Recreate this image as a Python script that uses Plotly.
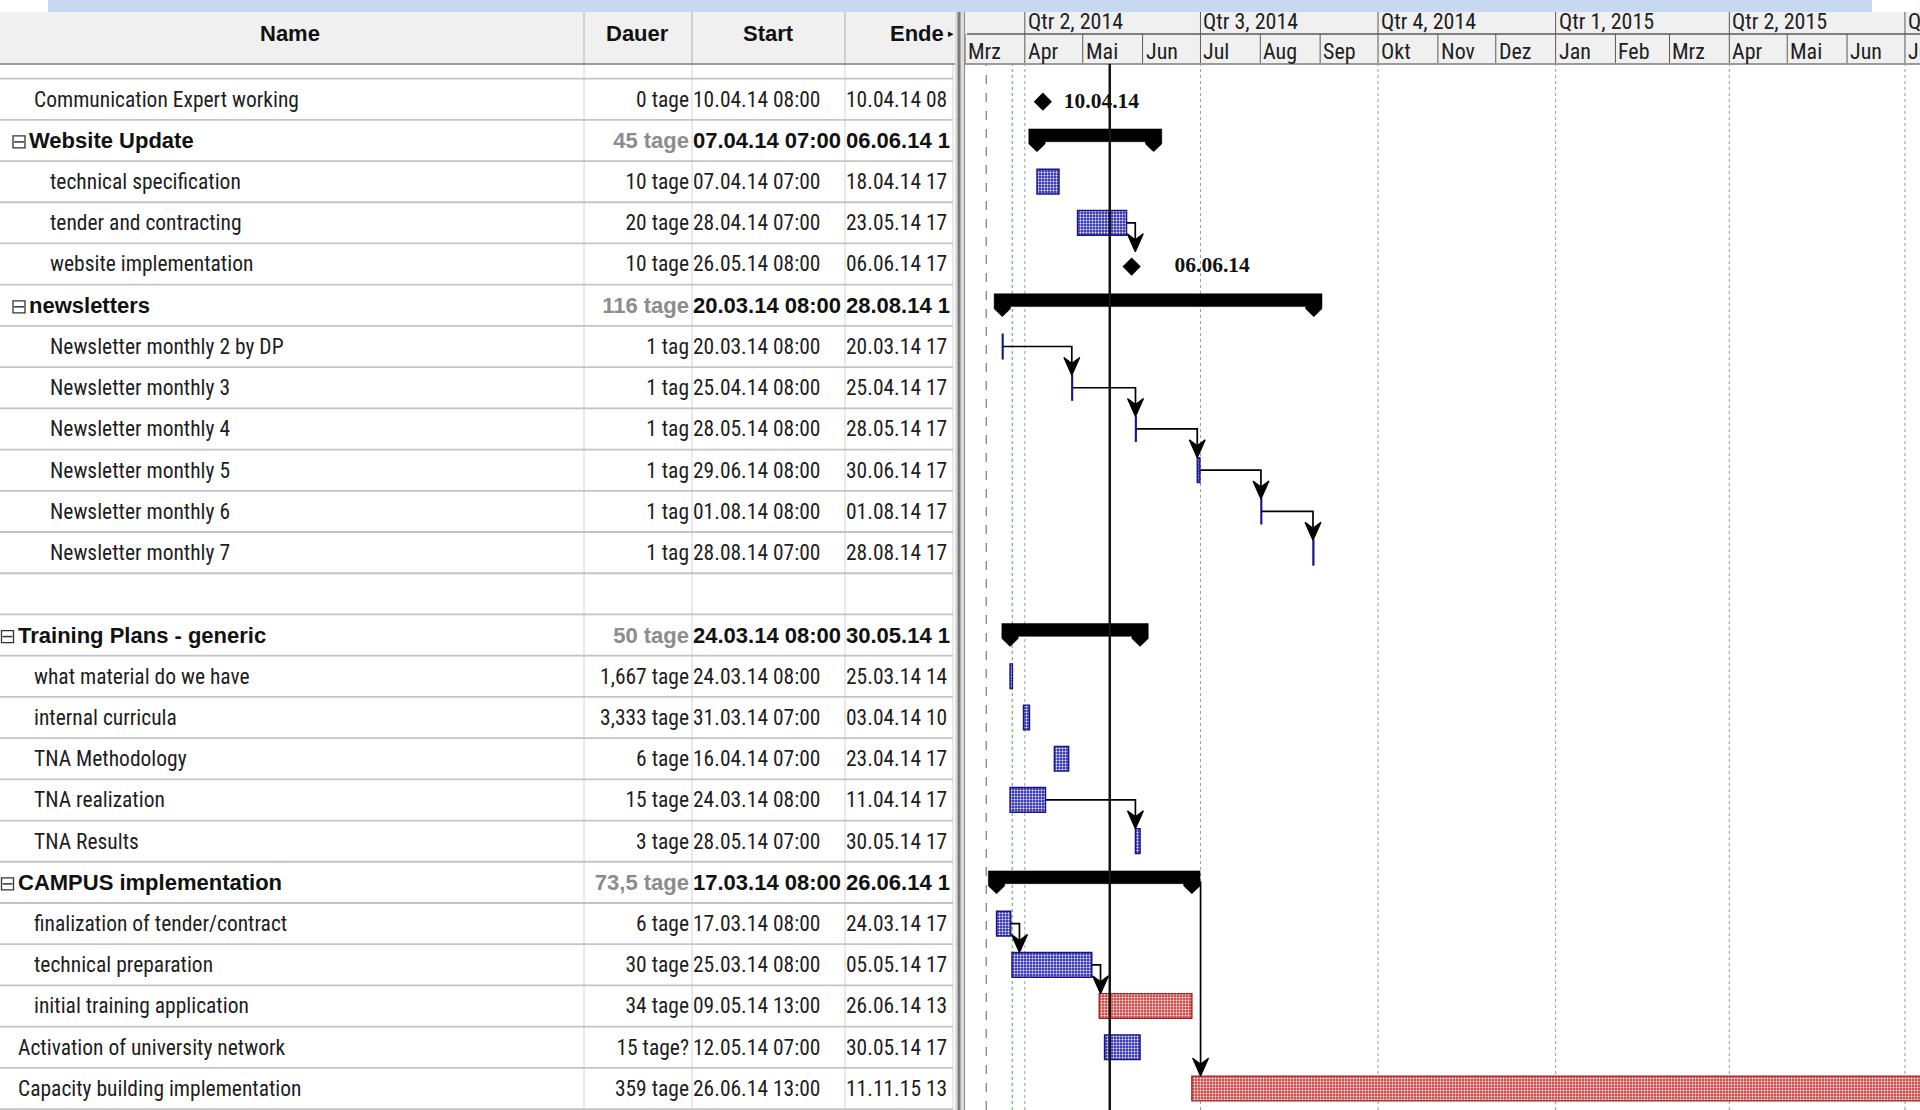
import plotly.graph_objects as go
from datetime import datetime, timedelta

W, H = 1920, 1110

# ---------------- data ----------------
task_names = [
    "Communication Expert working", "Website Update", "technical specification",
    "tender and contracting", "website implementation", "newsletters",
    "Newsletter monthly 2 by DP", "Newsletter monthly 3", "Newsletter monthly 4",
    "Newsletter monthly 5", "Newsletter monthly 6", "Newsletter monthly 7", "",
    "Training Plans - generic", "what material do we have", "internal curricula",
    "TNA Methodology", "TNA realization", "TNA Results", "CAMPUS implementation",
    "finalization of tender/contract", "technical preparation",
    "initial training application", "Activation of university network",
    "Capacity building implementation",
]
outline_level = [1, 1, 2, 2, 2, 1, 2, 2, 2, 2, 2, 2, None,
                 0, 1, 1, 1, 1, 1, 0, 1, 1, 1, 0, 0]
task_kind = ["milestone", "summary", "task", "task", "milestone", "summary",
             "task", "task", "task", "task", "task", "task", "blank",
             "summary", "task", "task", "task", "task", "task", "summary",
             "task", "task", "critical", "task", "critical"]
duration_labels = ["0 tage", "45 tage", "10 tage", "20 tage", "10 tage", "116 tage",
                   "1 tag", "1 tag", "1 tag", "1 tag", "1 tag", "1 tag", "",
                   "50 tage", "1,667 tage", "3,333 tage", "6 tage", "15 tage", "3 tage",
                   "73,5 tage", "6 tage", "30 tage", "34 tage", "15 tage?", "359 tage"]
start_labels = ["10.04.14 08:00", "07.04.14 07:00", "07.04.14 07:00", "28.04.14 07:00",
                "26.05.14 08:00", "20.03.14 08:00", "20.03.14 08:00", "25.04.14 08:00",
                "28.05.14 08:00", "29.06.14 08:00", "01.08.14 08:00", "28.08.14 07:00", "",
                "24.03.14 08:00", "24.03.14 08:00", "31.03.14 07:00", "16.04.14 07:00",
                "24.03.14 08:00", "28.05.14 07:00", "17.03.14 08:00", "17.03.14 08:00",
                "25.03.14 08:00", "09.05.14 13:00", "12.05.14 07:00", "26.06.14 13:00"]
finish_labels = ["10.04.14 08", "06.06.14 1", "18.04.14 17", "23.05.14 17", "06.06.14 17",
                 "28.08.14 1", "20.03.14 17", "25.04.14 17", "28.05.14 17", "30.06.14 17",
                 "01.08.14 17", "28.08.14 17", "", "30.05.14 1", "25.03.14 14",
                 "03.04.14 10", "23.04.14 17", "11.04.14 17", "30.05.14 17", "26.06.14 1",
                 "24.03.14 17", "05.05.14 17", "26.06.14 13", "30.05.14 17", "11.11.15 13"]
finish_times = ["2014-04-10 08:00", "2014-06-06 17:00", "2014-04-18 17:00", "2014-05-23 17:00",
                "2014-06-06 17:00", "2014-08-28 17:00", "2014-03-20 17:00", "2014-04-25 17:00",
                "2014-05-28 17:00", "2014-06-30 17:00", "2014-08-01 17:00", "2014-08-28 17:00", "",
                "2014-05-30 17:00", "2014-03-25 14:00", "2014-04-03 10:00", "2014-04-23 17:00",
                "2014-04-11 17:00", "2014-05-30 17:00", "2014-06-26 13:00", "2014-03-24 17:00",
                "2014-05-05 17:00", "2014-06-26 13:00", "2014-05-30 17:00", "2015-11-11 13:00"]
links = [(3, 4), (6, 7), (7, 8), (8, 9), (9, 10), (10, 11), (17, 18), (20, 21), (21, 22), (19, 24)]

month_labels = ["Mrz", "Apr", "Mai", "Jun", "Jul", "Aug", "Sep", "Okt", "Nov", "Dez",
                "Jan", "Feb", "Mrz", "Apr", "Mai", "Jun", "Jul"]
quarter_labels = ["Qtr 2, 2014", "Qtr 3, 2014", "Qtr 4, 2014", "Qtr 1, 2015", "Qtr 2, 2015", "Qtr 3, 2015"]
status_date = "2014-05-15"
project_line_date = "2014-03-12"
current_line_date = "2014-03-25 12:00"
header_labels = ["Name", "Dauer", "Start", "Ende"]

# ---------------- geometry / style ----------------
X0 = datetime(2014, 3, 1)
X1 = datetime(2015, 7, 8, 19)
GX0 = 965                      # left edge of the gantt pane (px)
DAY_PX = (W - GX0) / ((X1 - X0).total_seconds() / 86400)
ROW0, ROWH = 99.2, 41.22       # pixel centre of first row, row pitch
Y_TOP, Y_BOT = -ROW0 / ROWH, (H - ROW0) / ROWH
HDR_TOP, HDR_MID, HDR_BOT = 12, 34, 64

FONT_REG = "Roboto Condensed, DejaVu Sans Condensed, Liberation Sans, sans-serif"
FONT_BOLD = "Liberation Sans, Arial, sans-serif"
TXT = "#1e1e1e"
REG_SIZE = 21.5
BOLD_SIZE = 22


def dpx(p):
    return timedelta(days=p / DAY_PX)


def rpx(p):
    return p / ROWH


def py(p):
    return 1 - p / H


def fmt(d):
    return d.strftime("%Y-%m-%d %H:%M:%S")


def parse(s):
    return datetime.strptime(s, "%d.%m.%y %H:%M") if s else None


starts = [parse(s) for s in start_labels]
finishes = [datetime.strptime(s, "%Y-%m-%d %H:%M") if s else None for s in finish_times]
rows = list(range(len(task_names)))
TXT_DY = rpx(2)

fig = go.Figure()

# ---------------- gantt bars ----------------
for kind, col, edge in [("task", "#3434b4", "#161688"), ("critical", "#d04646", "#a02424")]:
    idx = [i for i in rows if task_kind[i] == kind]
    fig.add_trace(go.Bar(
        orientation="h", y=idx, base=[fmt(starts[i]) for i in idx],
        x=[(finishes[i] - starts[i]).total_seconds() * 1000 for i in idx],
        width=0.6, xaxis="x", yaxis="y",
        marker=dict(color=col, line=dict(color=edge, width=1.4),
                    pattern=dict(shape=".", fillmode="overlay", fgcolor="white",
                                 fgopacity=0.95, size=3, solidity=0.34)),
        hoverinfo="skip", showlegend=False))

# summary bars (bar with pointed end caps)
sx, sy = [], []
for i in rows:
    if task_kind[i] != "summary":
        continue
    s, e = starts[i], finishes[i]
    hw = dpx(8.2)
    top, bot, sh, tip = i - rpx(11.5), i + rpx(1.3), i + rpx(3.5), i + rpx(11.4)
    pts = [(s - hw, top), (e + hw, top), (e + hw, sh), (e, tip), (e - hw, sh), (e - hw, bot),
           (s + hw, bot), (s + hw, sh), (s, tip), (s - hw, sh), (s - hw, top)]
    sx += [fmt(p[0]) for p in pts] + [None]
    sy += [p[1] for p in pts] + [None]
fig.add_trace(go.Scatter(x=sx, y=sy, mode="lines", fill="toself", fillcolor="black",
                         line=dict(color="black", width=0.5), hoverinfo="skip", showlegend=False))

# links (finish-to-start)
cx, cy, ax_, ay_ = [], [], [], []
for p, s in links:
    pe, ss = finishes[p], starts[s]
    vx = max(ss, pe + dpx(8.7))
    top = s - 0.3
    cx += [fmt(pe), fmt(vx), fmt(vx), None]
    cy += [p, p, top - rpx(9), None]
    pts = [(vx - dpx(8), top - rpx(18)), (vx, top), (vx + dpx(8), top - rpx(18)),
           (vx, top - rpx(12)), (vx - dpx(8), top - rpx(18))]
    ax_ += [fmt(q[0]) for q in pts] + [None]
    ay_ += [q[1] for q in pts] + [None]
fig.add_trace(go.Scatter(x=cx, y=cy, mode="lines", line=dict(color="black", width=1.7),
                         hoverinfo="skip", showlegend=False))
fig.add_trace(go.Scatter(x=ax_, y=ay_, mode="lines", fill="toself", fillcolor="black",
                         line=dict(color="black", width=1.2), hoverinfo="skip", showlegend=False))

# milestones
mi = [i for i in rows if task_kind[i] == "milestone"]
fig.add_trace(go.Scatter(x=[fmt(starts[i]) for i in mi], y=[i + rpx(2.5) for i in mi],
                         mode="markers", marker=dict(symbol="diamond", size=14, color="black"),
                         hoverinfo="skip", showlegend=False))
fig.add_trace(go.Scatter(x=[fmt(finishes[i] + dpx(21)) for i in mi], y=[i + rpx(3) for i in mi],
                         mode="text", text=[finishes[i].strftime("%d.%m.%y") for i in mi],
                         textposition="middle right",
                         textfont=dict(family="Liberation Serif, serif", size=21.5, color="#111111",
                                       weight="bold"),
                         hoverinfo="skip", showlegend=False))


# ---------------- table text ----------------
def name_x(i):
    lv = outline_level[i]
    if lv == 0:
        return 18
    if lv == 1:
        return 29 if task_kind[i] == "summary" else 34
    return 50


summ = [i for i in rows if task_kind[i] == "summary"]
norm = [i for i in rows if task_kind[i] not in ("summary", "blank")]


def text_trace(idx, xs, texts, pos, family, color, weight="normal", size=REG_SIZE):
    return go.Scatter(x=xs, y=[i + TXT_DY for i in idx], text=texts, mode="text", textposition=pos,
                      textfont=dict(family=family, size=size, color=color, weight=weight),
                      xaxis="x2", yaxis="y", hoverinfo="skip", showlegend=False, cliponaxis=False)


fig.add_trace(text_trace(norm, [name_x(i) for i in norm], [task_names[i] for i in norm],
                         "middle right", FONT_REG, TXT))
fig.add_trace(text_trace(summ, [name_x(i) for i in summ], [task_names[i] for i in summ],
                         "middle right", FONT_BOLD, "#111111", "bold", BOLD_SIZE))
fig.add_trace(text_trace(norm, [689] * len(norm), [duration_labels[i] for i in norm],
                         "middle left", FONT_REG, TXT))
fig.add_trace(text_trace(summ, [689] * len(summ), [duration_labels[i] for i in summ],
                         "middle left", FONT_BOLD, "#8c8c8c", "bold", BOLD_SIZE))
fig.add_trace(text_trace(norm, [693] * len(norm), [start_labels[i] for i in norm],
                         "middle right", FONT_REG, TXT))
fig.add_trace(text_trace(summ, [693] * len(summ), [start_labels[i] for i in summ],
                         "middle right", FONT_BOLD, "#111111", "bold", BOLD_SIZE))
fig.add_trace(text_trace(norm, [846] * len(norm), [finish_labels[i] for i in norm],
                         "middle right", FONT_REG, TXT))
fig.add_trace(text_trace(summ, [846] * len(summ), [finish_labels[i] for i in summ],
                         "middle right", FONT_BOLD, "#111111", "bold", BOLD_SIZE))

# collapse boxes of summary rows
bx = [7.5 if outline_level[i] == 0 else 19 for i in summ]
fig.add_trace(go.Scatter(x=bx, y=[i + rpx(1.5) for i in summ], mode="markers", xaxis="x2", yaxis="y",
                         marker=dict(symbol="square-open", size=12, color="#333333",
                                     line=dict(width=1.3, color="#333333")),
                         hoverinfo="skip", showlegend=False))
fig.add_trace(go.Scatter(x=bx, y=[i + rpx(1.5) for i in summ], mode="markers", xaxis="x2", yaxis="y",
                         marker=dict(symbol="line-ew", size=7, color="#333333",
                                     line=dict(width=1.5, color="#333333")),
                         hoverinfo="skip", showlegend=False))

# ---------------- shapes ----------------
shapes = []
qdates = [datetime(2014 + (3 + 3 * k) // 12, (3 + 3 * k) % 12 + 1, 1) for k in range(len(quarter_labels))]
mdates = [datetime(2014 + (2 + k) // 12, (2 + k) % 12 + 1, 1) for k in range(len(month_labels))]
for d in qdates:
    shapes.append(dict(type="line", xref="x", yref="paper", x0=fmt(d), x1=fmt(d), y0=0, y1=py(HDR_BOT),
                       line=dict(color="#9a9a9a", width=1, dash="dot"), layer="below"))
shapes.append(dict(type="line", xref="x", yref="paper", x0=project_line_date, x1=project_line_date,
                   y0=0, y1=py(HDR_BOT), line=dict(color="#7a7a7a", width=1.2, dash="dash"), layer="below"))
shapes.append(dict(type="line", xref="x", yref="paper", x0=current_line_date, x1=current_line_date,
                   y0=0, y1=py(HDR_BOT), line=dict(color="#66bb66", width=1.2, dash="dot"), layer="below"))
for r in range(-1, len(task_names)):
    shapes.append(dict(type="line", xref="x2", yref="y", x0=0, x1=953, y0=r + 0.5, y1=r + 0.5,
                       line=dict(color="#c4c4c4", width=1.8), layer="below"))
for cxp in [584, 692, 845, 953]:
    shapes.append(dict(type="line", xref="x2", yref="paper", x0=cxp, x1=cxp, y0=0, y1=py(HDR_BOT),
                       line=dict(color="#d2d2d2", width=1), layer="below"))
shapes.append(dict(type="rect", xref="paper", yref="paper", x0=0, x1=1, y0=py(HDR_BOT), y1=py(HDR_TOP),
                   fillcolor="#f0f0f0", line=dict(width=0), layer="below"))
shapes.append(dict(type="rect", xref="paper", yref="paper", x0=48 / W, x1=1872 / W, y0=py(HDR_TOP), y1=1,
                   fillcolor="#c6d9f1", line=dict(width=0), layer="below"))
for cxp in [584, 692, 845]:
    shapes.append(dict(type="line", xref="x2", yref="paper", x0=cxp, x1=cxp, y0=py(HDR_BOT), y1=py(HDR_TOP),
                       line=dict(color="#c4c4c4", width=1.5), layer="below"))
shapes.append(dict(type="line", xref="paper", yref="paper", x0=967 / W, x1=1, y0=py(HDR_MID), y1=py(HDR_MID),
                   line=dict(color="#5a5a5a", width=1.5), layer="below"))
for d in qdates:
    shapes.append(dict(type="line", xref="x", yref="paper", x0=fmt(d), x1=fmt(d), y0=py(HDR_MID), y1=py(HDR_TOP),
                       line=dict(color="#5a5a5a", width=1), layer="below"))
for d in mdates:
    shapes.append(dict(type="line", xref="x", yref="paper", x0=fmt(d), x1=fmt(d), y0=py(HDR_BOT), y1=py(HDR_MID),
                       line=dict(color="#5a5a5a", width=1), layer="below"))
shapes.append(dict(type="line", xref="paper", yref="paper", x0=0, x1=1, y0=py(HDR_BOT), y1=py(HDR_BOT),
                   line=dict(color="#9a9a9a", width=2), layer="below"))
shapes.append(dict(type="rect", xref="paper", yref="paper", x0=955 / W, x1=965 / W, y0=0, y1=py(HDR_TOP),
                   fillcolor="#dcdcdc", line=dict(width=0), layer="below"))
shapes.append(dict(type="line", xref="paper", yref="paper", x0=959 / W, x1=959 / W, y0=0, y1=py(HDR_TOP),
                   line=dict(color="#7c7c7c", width=3), layer="below"))
shapes.append(dict(type="line", xref="paper", yref="paper", x0=964.5 / W, x1=964.5 / W, y0=0, y1=py(HDR_TOP),
                   line=dict(color="#8c8c8c", width=1), layer="below"))
shapes.append(dict(type="line", xref="x", yref="paper", x0=status_date, x1=status_date, y0=0, y1=py(HDR_BOT),
                   line=dict(color="#151515", width=2.5), layer="above"))

# ---------------- annotations ----------------
ann = []
hdr_x = [(290, "center"), (637, "center"), (768, "center"), (946, "right")]
for lab, (hx, anc) in zip(header_labels, hdr_x):
    ann.append(dict(xref="x2", yref="paper", x=hx, y=py(33), text=lab, showarrow=False, xanchor=anc,
                    yanchor="middle", font=dict(family=FONT_BOLD, size=22, color="#111111", weight="bold")))
ann.append(dict(xref="x2", yref="paper", x=951, y=py(33), text="▸", showarrow=False, xanchor="center",
                yanchor="middle", font=dict(family="DejaVu Sans", size=11, color="#000000")))
for lab, d in zip(quarter_labels, qdates):
    ann.append(dict(xref="x", yref="paper", x=fmt(d), y=py(21), text=lab, showarrow=False, xanchor="left",
                    xshift=1, yanchor="middle", font=dict(family=FONT_REG, size=22, color=TXT)))
for lab, d in zip(month_labels, mdates):
    ann.append(dict(xref="x", yref="paper", x=fmt(d), y=py(52), text=lab, showarrow=False, xanchor="left",
                    xshift=1, yanchor="middle", font=dict(family=FONT_REG, size=22, color=TXT)))

fig.update_layout(
    width=W, height=H, margin=dict(l=0, r=0, t=0, b=0),
    paper_bgcolor="white", plot_bgcolor="rgba(0,0,0,0)",
    barmode="overlay", showlegend=False,
    xaxis=dict(domain=[GX0 / W, 1], range=[fmt(X0), fmt(X1)], type="date", visible=False,
               showgrid=False, zeroline=False, fixedrange=True),
    xaxis2=dict(domain=[0, GX0 / W], range=[0, GX0], visible=False, anchor="y",
                showgrid=False, zeroline=False, fixedrange=True),
    yaxis=dict(domain=[0, 1], range=[Y_BOT, Y_TOP], visible=False, showgrid=False,
               zeroline=False, fixedrange=True),
    shapes=shapes, annotations=ann,
)

fig.write_html("out.html", config={"displayModeBar": False},
               post_script="document.body.style.margin='0px';")
